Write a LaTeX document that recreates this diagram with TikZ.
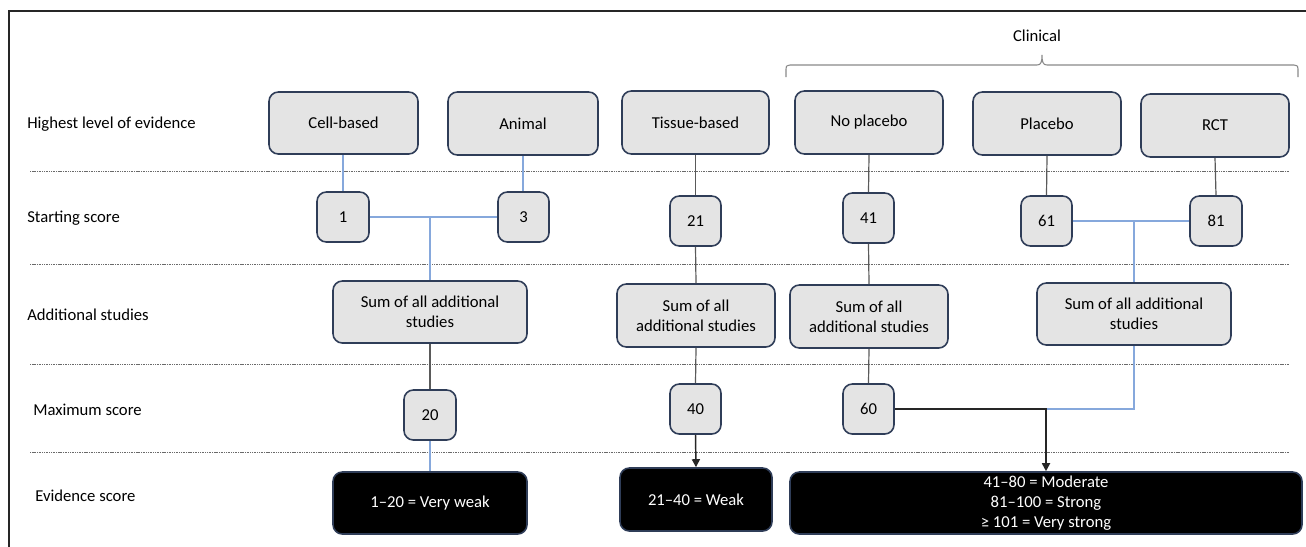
\documentclass[tikz,border=0pt]{standalone}
\usepackage{fontspec}
\setmainfont{Carlito}
\usetikzlibrary{arrows.meta}
\definecolor{boxfill}{HTML}{E4E4E4}
\definecolor{boxdraw}{HTML}{2F3D58}
\definecolor{blueline}{HTML}{86A8DC}
\definecolor{grayline}{HTML}{5A5A5A}
\definecolor{dotline}{HTML}{6A6A6A}
\definecolor{braceline}{HTML}{8A8A8A}
\begin{document}
\begin{tikzpicture}[x=0.75pt,y=-0.75pt,
  every node/.style={font=\fontsize{12.5}{15}\selectfont},
  sz/.style 2 args={minimum width=#1*0.75pt, minimum height=#2*0.75pt},
  gbox/.style={draw=boxdraw, line width=1.2pt, fill=boxfill, rounded corners=7pt,
    inner sep=0pt, align=center, text=black},
  ebox/.style={draw=boxdraw, line width=1.2pt, fill=black, rounded corners=7pt,
    inner sep=0pt, align=center, text=white},
  rowlab/.style={anchor=west, inner sep=0pt},
  sep/.style={dotline, line width=0.6pt, dash pattern=on 0.8pt off 0.5pt},
  bl/.style={blueline, line width=1pt},
  gl/.style={grayline, line width=0.9pt},
  arr/.style={black!85, line width=1.1pt, -{Triangle[width=6pt,length=6pt]}}
]
\useasboundingbox (0,0) rectangle (1306,546);
\fill[white] (0,0) rectangle (1306,546);
% frame
\draw[line width=1.6pt, black!85] (9,560) -- (9,11) -- (1320,11);

% separators
\foreach \yy in {171,264,364,452} \draw[sep] (30,\yy) -- (1290,\yy);

% row labels
\node[rowlab] (l1) at (27,124) {Highest level of evidence};
\node[rowlab] (l2) at (27,218) {Starting score};
\node[rowlab] (l3) at (27,315) {Additional studies};
\node[rowlab] (l4) at (33,410) {Maximum score};
\node[rowlab] (l5) at (35,496) {Evidence score};

% clinical brace
\node (clin) at (1037,36) {Clinical};
\draw[braceline, line width=0.8pt] (786,77) -- (786,69) .. controls (786,66) .. (790,65) -- (1037,65)
  .. controls (1041,65) and (1042,62) .. (1042,55)
  .. controls (1042,62) and (1043,65) .. (1047,65) -- (1294,65) .. controls (1298,66) .. (1298,69) -- (1298,77);

% top row
\node[gbox, sz={149}{62}] (cell) at (343.5,123) {Cell-based};
\node[gbox, sz={150}{63}] (animal) at (523,123.5) {Animal};
\node[gbox, sz={147}{63}] (tissue) at (695.5,122.5) {Tissue-based};
\node[gbox, sz={148}{63}] (noplac) at (869,122.5) {No placebo};
\node[gbox, sz={148}{63}] (placebo) at (1047,123.5) {Placebo};
\node[gbox, sz={148}{63}] (rct) at (1215,125.5) {RCT};

% starting scores
\node[gbox, sz={52}{50}] (c1) at (343,217) {1};
\node[gbox, sz={51}{50}] (c3) at (523.5,217) {3};
\node[gbox, sz={51}{50}] (c21) at (695.5,221) {21};
\node[gbox, sz={51}{50}] (c41) at (868.5,218) {41};
\node[gbox, sz={51}{50}] (c61) at (1046.5,221) {61};
\node[gbox, sz={52}{50}] (c81) at (1216,221) {81};

% additional studies
\node[gbox, sz={194}{62}] (sum1) at (430,312) {Sum of all additional\\studies};
\node[gbox, sz={158}{63}] (sum2) at (696,315.5) {Sum of all\\additional studies};
\node[gbox, sz={158}{63}] (sum3) at (869,316.5) {Sum of all\\additional studies};
\node[gbox, sz={194}{62}] (sum4) at (1134,314) {Sum of all additional\\studies};

% maximum scores
\node[gbox, sz={52}{50}] (m20) at (430,415) {20};
\node[gbox, sz={51}{50}] (m40) at (695.5,409) {40};
\node[gbox, sz={51}{50}] (m60) at (868.5,409) {60};

% evidence scores
\node[ebox, sz={194}{62}] (e1) at (430,503) {1--20 = Very weak};
\node[ebox, sz={152}{63}] (e2) at (696,499.5) {21--40 = Weak};
\node[ebox, sz={512}{62}] (e3) at (1046,503) {41--80 = Moderate\\81--100 = Strong\\≥ 101 = Very strong};

% connectors: top to starting score
\draw[bl] (c1.north |- cell.south) -- (c1.north);
\draw[bl] (animal.south) -- (c3.north -| animal.south);
\draw[gl] (tissue.south) -- (c21.north);
\draw[gl] (noplac.south) -- (c41.north);
\draw[gl] (placebo.south) -- (c61.north);
\draw[gl] (rct.south) -- (c81.north);

% starting to additional
\draw[bl] (c1.east) -- (c3.west);
\coordinate (j1) at (sum1.north |- c1.east);
\draw[bl] (j1) -- (sum1.north);
\draw[gl] (c21.south) -- (sum2.north);
\draw[gl] (c41.south) -- (sum3.north);
\draw[bl] (c61.east) -- (c81.west);
\coordinate (j4) at (sum4.north |- c61.east);
\draw[bl] (j4) -- (sum4.north);

% additional to maximum
\draw[gl] (sum1.south) -- (m20.north);
\draw[gl] (sum2.south) -- (m40.north);
\draw[gl] (sum3.south) -- (m60.north);
\coordinate (j6) at (e3.north |- m60.east);
\draw[bl] (sum4.south) |- (j6);

% maximum to evidence
\draw[bl] (m20.south) -- (e1.north);
\draw[arr] (m40.south) -- (e2.north);
\draw[arr, line width=1.3pt] (m60.east) -| (e3.north);
\end{tikzpicture}
\end{document}
